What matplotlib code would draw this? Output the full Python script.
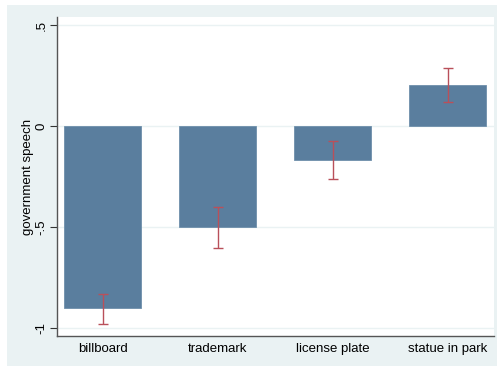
import matplotlib
matplotlib.use("Agg")
import matplotlib.pyplot as plt
from matplotlib.patches import Rectangle

categories = ["billboard", "trademark", "license plate", "statue in park"]
means = [-0.903, -0.50, -0.17, 0.203]
ci_low = [-0.98, -0.605, -0.26, 0.12]
ci_high = [-0.83, -0.40, -0.075, 0.287]
yticks = [-1, -0.5, 0, 0.5]
yticklabels = ["-1", "-.5", "0", ".5"]

W, H = 498, 366
fig = plt.figure(figsize=(W / 100, H / 100), dpi=100, facecolor="white")
bg = "#EAF2F3"
fig.patches.append(Rectangle((7 / W, 0), (497 - 7) / W, (366 - 5) / H,
                             transform=fig.transFigure, facecolor=bg,
                             edgecolor="none", zorder=-10))

ax = fig.add_axes([57 / W, 1 - 336 / H, (494 - 57) / W, (336 - 17) / H])
ax.set_facecolor("white")

x = list(range(len(categories)))
ax.bar(x, means, width=0.67, color="#5A7E9E", edgecolor="#6E8FAB",
       linewidth=0.6, zorder=2)
yerr_lo = [m - l for m, l in zip(means, ci_low)]
yerr_hi = [h - m for m, h in zip(means, ci_high)]
ax.errorbar(x, means, yerr=[yerr_lo, yerr_hi], fmt="none",
            ecolor="#B9505A", elinewidth=1.0, capsize=3.5, capthick=1.0,
            zorder=3)

ax.set_xlim(-0.396, 3.404)
ax.set_ylim(-1.04, 0.54)
ax.set_yticks(yticks)
ax.set_yticklabels(yticklabels, rotation=90, va="center", fontsize=9.5,
                   family="Liberation Sans")
ax.set_xticks(x)
ax.set_xticklabels(categories, fontsize=9.5, family="Liberation Sans")
ax.tick_params(axis="x", length=0, pad=5)
ax.tick_params(axis="y", length=5, width=0.8, color="#333333", pad=2)
ax.grid(axis="y", color=bg, linewidth=1.0, zorder=1)
ax.set_axisbelow(True)

for s in ["top", "right"]:
    ax.spines[s].set_visible(False)
for s in ["left", "bottom"]:
    ax.spines[s].set_color("#555555")
    ax.spines[s].set_linewidth(1.0)

ax.set_ylabel("government speech", fontsize=9.5, family="Liberation Sans",
              labelpad=1)

fig.savefig("out.png", dpi=100, facecolor="white")
